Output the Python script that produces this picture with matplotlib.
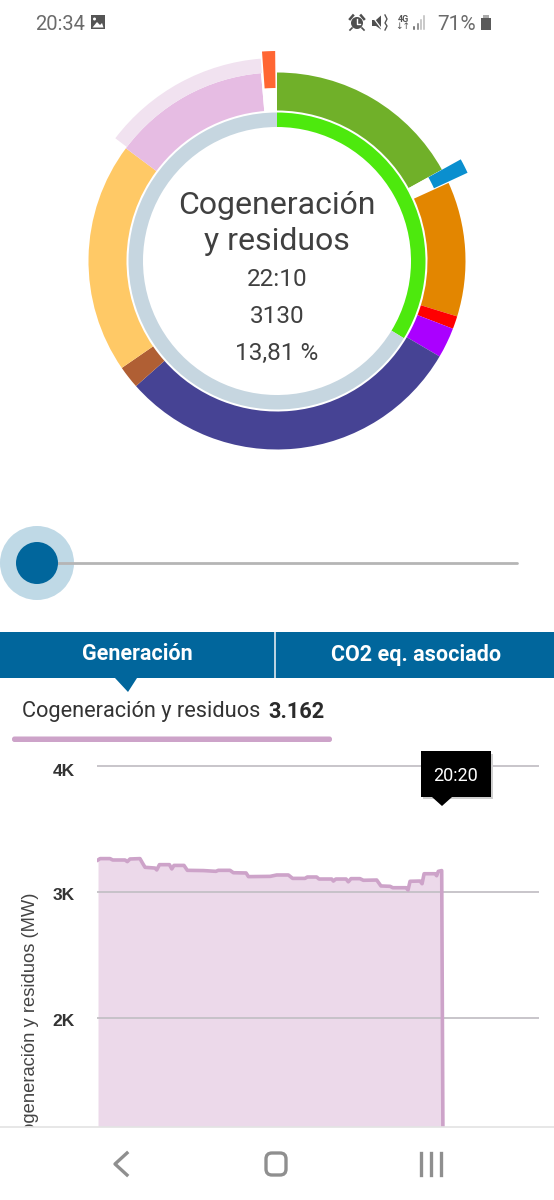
import matplotlib
matplotlib.use('Agg')
import matplotlib.pyplot as plt
from matplotlib.patches import Circle, Polygon, Rectangle, FancyBboxPatch, Wedge

W, H = 554, 1200
plt.rcParams['font.family'] = ['Roboto', 'DejaVu Sans']

# Donut shares, in % of the circle, clockwise from the top
outer_names = ['Eólica', 'hueco', 'Hidráulica', 'Solar fotovoltaica', 'Solar térmica', 'Nuclear',
               'Carbón', 'Ciclo combinado', 'Cogeneración y residuos', 'hueco']
outer_shares = [16.95, 1.25, 11.55, 1.1, 2.6, 30.0, 1.95, 19.8, 13.45, 1.35]
outer_colors = ['#70b029', '#ffffff', '#e38600', '#ff0000', '#aa00ff', '#464394',
                '#b05f34', '#ffc966', '#e6bce3', '#ffffff']
inner_shares = [33.7, 66.3]
inner_colors = ['#4de90d', '#c6d6e0']

# Previous value of the selected slice and the two tick markers, degrees from the top
pale_start, pale_end = 307.2, 355.4
marker_angles = [63.1, 357.7]
marker_half_widths = [2.05, 1.8]
marker_colors = ['#0a8fcf', '#ff6633']

center_lines = ['22:10', '3130', '13,81 %']

# Generation curve
hours = [0.0, 0.12, 0.71, 0.87, 1.60, 1.73, 1.89, 2.48, 2.64, 2.78, 3.37, 3.47, 3.63, 4.22, 4.36,
         4.49, 5.08, 5.28, 6.23, 6.97, 7.11, 7.80, 8.0, 8.75, 8.89, 10.17, 10.56, 11.25, 11.5,
         12.23, 12.37, 12.92, 13.06, 13.81, 13.91, 14.05, 14.66, 14.79, 14.95, 15.48, 15.68,
         16.47, 16.72, 17.26, 17.42, 18.2, 18.32, 18.44, 19.03, 19.15, 19.27, 19.92, 20.01,
         20.11, 20.31]
generation = [3254, 3265, 3265, 3254, 3254, 3241, 3262, 3265, 3227, 3196, 3190, 3175, 3217, 3217,
              3183, 3211, 3211, 3172, 3170, 3164, 3172, 3172, 3153, 3151, 3122, 3124, 3135, 3135,
              3108, 3108, 3119, 3119, 3103, 3103, 3087, 3103, 3103, 3081, 3106, 3106, 3093, 3095,
              3048, 3045, 3034, 3034, 3016, 3085, 3087, 3066, 3145, 3145, 3129, 3164, 3170]
y_ticks = [2000, 3000, 4000]
y_tick_labels = ['2K', '3K', '4K']


def py(y):
    # screen pixels are counted from the top
    return H - y


fig = plt.figure(figsize=(W / 100, H / 100), dpi=100, facecolor='white')
screen = fig.add_axes([0, 0, 1, 1])

# Donut
cx, cy = 277, py(261)
screen.pie(outer_shares, colors=outer_colors, startangle=90, counterclock=False, center=(cx, cy),
           radius=188.5, normalize=True, wedgeprops={'width': 38, 'linewidth': 0}, frame=True)
screen.pie(inner_shares, colors=inner_colors, startangle=90, counterclock=False, center=(cx, cy),
           radius=148.5, normalize=True, wedgeprops={'width': 14.5, 'linewidth': 0}, frame=True)
screen.set_xlim(0, W)
screen.set_ylim(0, H)
screen.set_aspect('auto')
screen.axis('off')
screen.add_patch(Wedge((cx, cy), 203, 90 - pale_end, 90 - pale_start, width=14.5,
                       fc='#f1e2f0', lw=0))
for angle, half, color in zip(marker_angles, marker_half_widths, marker_colors):
    screen.add_patch(Wedge((cx, cy), 210, 90 - angle - half, 90 - angle + half, width=37,
                           fc=color, lw=0))

screen.text(cx, py(205), 'Cogeneración', fontsize=23, color='#404040', ha='center', va='center')
screen.text(cx, py(241), 'y residuos', fontsize=23, color='#404040', ha='center', va='center')
for label, y in zip(center_lines, [279.5, 316.5, 353.5]):
    screen.text(cx, py(y), label, fontsize=17.5, color='#404040', ha='center', va='center')

# Slider
screen.add_patch(Circle((37, py(563)), 37, fc='#bfd9e6', lw=0))
screen.plot([37, 517], [py(563), py(563)], color='#b5b5b5', lw=2, solid_capstyle='round')
screen.add_patch(Circle((37, py(563)), 21, fc='#01669c', lw=0, zorder=3))

# Tabs
screen.add_patch(Rectangle((0, py(678)), W, 46, fc='#01669c', lw=0))
screen.add_patch(Rectangle((274, py(678)), 2, 46, fc='#b9d2e1', lw=0))
screen.add_patch(Polygon([(115, py(678)), (137, py(678)), (128, py(692))], fc='#01669c', lw=0))
screen.text(137, py(654.5), 'Generación', fontsize=15.5, fontweight='bold', color='white',
            ha='center', va='center', stretch='condensed')
screen.text(416, py(654.5), 'CO2 eq. asociado', fontsize=15.5, fontweight='bold', color='white',
            ha='center', va='center', stretch='condensed')

screen.text(22, py(711.5), 'Cogeneración y residuos', fontsize=15.7, color='#333333',
            ha='left', va='center')
screen.text(268, py(711.5), '3.162', fontsize=15.7, fontweight='bold', color='#2b2b2b',
            ha='left', va='center')
screen.add_patch(FancyBboxPatch((12, py(742)), 320, 5.5, boxstyle='round,pad=0,rounding_size=2.5',
                                fc='#cda3c9', lw=0))

# Area chart, 4K sits at y=766 and each 1K takes 126 px
chart_left, chart_right, chart_top, chart_bottom = 97, 539, 745, 1127
chart = fig.add_axes([chart_left / W, (H - chart_bottom) / H, (chart_right - chart_left) / W,
                      (chart_bottom - chart_top) / H])
chart.patch.set_alpha(0)
chart.set_xlim(-0.06, 26.06)
chart.set_ylim(3000 - (chart_bottom - 892) / 0.126, 4000 + (766 - chart_top) / 0.126)
chart.fill_between(hours + [20.42], generation + [0], 0, color='#ecd9ea', lw=0, zorder=1)
chart.yaxis.grid(True, color='#c4c0c6', lw=1.3, zorder=2)
chart.set_axisbelow(False)
chart.plot(hours + [20.42], generation + [0], color='#cda3c9', lw=2.6, solid_joinstyle='round', zorder=3)
chart.set_yticks(y_ticks)
chart.set_yticklabels([])
chart.set_xticks([])
for side in chart.spines.values():
    side.set_visible(False)
chart.tick_params(length=0)

overlay = fig.add_axes([0, 0, 1, 1], zorder=5)
overlay.set_xlim(0, W)
overlay.set_ylim(0, H)
overlay.axis('off')
for label, y in zip(y_tick_labels, [1021, 896, 771.5]):
    overlay.text(74.5, py(y), label, fontsize=12.5, fontweight='bold', color='#333333',
                 ha='right', va='center', family=['Liberation Sans', 'DejaVu Sans'])
overlay.text(31, py(892), 'Cogeneración y residuos (MW)', fontsize=13.2, color='#444444', rotation=90,
             ha='center', va='top', family=['Liberation Sans', 'DejaVu Sans'])

# Tooltip
overlay.add_patch(Rectangle((423, py(799)), 70, 45, fc='#cfcfcf', lw=0))
overlay.add_patch(Rectangle((421, py(797)), 70, 46, fc='black', lw=0))
overlay.add_patch(Polygon([(432, py(797)), (452, py(797)), (442, py(806))], fc='black', lw=0))
overlay.text(455.5, py(776), '20:20', fontsize=13, color='white', ha='center', va='center')

# Status bar
overlay.text(35, py(24.5), '20:34', fontsize=14.5, color='#6b6b6b', ha='left', va='center')
overlay.add_patch(Rectangle((91, py(29)), 14, 14, fc='#555555', lw=0))
overlay.add_patch(Polygon([(92.5, py(27.5)), (97, py(22)), (100, py(25)), (102, py(23)), (103.5, py(27.5))],
                          fc='white', lw=0))
overlay.add_patch(Circle((94.5, py(19)), 1.5, fc='white', lw=0))
# alarm
overlay.add_patch(Circle((357, py(23)), 6, fc='#4f4f4f', lw=0))
overlay.plot([357, 357, 360], [py(19), py(23.5), py(23.5)], color='white', lw=1)
overlay.plot([350, 353], [py(19), py(15.5)], color='#4f4f4f', lw=1.8)
overlay.plot([361, 364], [py(15.5), py(19)], color='#4f4f4f', lw=1.8)
overlay.plot([352, 350], [py(28), py(30)], color='#4f4f4f', lw=1.2)
overlay.plot([362, 364], [py(28), py(30)], color='#4f4f4f', lw=1.2)
# muted speaker
overlay.add_patch(Polygon([(372, py(20)), (376, py(20)), (381, py(15.5)), (381, py(29.5)), (376, py(26)), (372, py(26))],
                          fc='#4f4f4f', lw=0))
overlay.plot([372, 381], [py(16), py(28)], color='white', lw=0.9)
overlay.plot([385, 387, 385, 387, 385], [py(15), py(19), py(23), py(26), py(30)], color='#555555', lw=1)
overlay.text(403, py(19.5), '4G', fontsize=6.5, fontweight='bold', color='#555555', ha='center', va='center')
overlay.text(403, py(26.5), '↓↑', fontsize=6.5, color='#555555', ha='center', va='center',
             family=['DejaVu Sans'])
for x, top, color in zip([414, 418, 421, 424], [27, 24, 20, 16], ['#555555', '#777777', '#bbbbbb', '#bbbbbb']):
    overlay.plot([x, x], [py(29), py(top)], color=color, lw=1.1)
overlay.text(437, py(25), '71%', fontsize=15, color='#6b6b6b', ha='left', va='center')
overlay.add_patch(Rectangle((481, py(30)), 10, 12.5, fc='#5a5a5a', lw=0))
overlay.add_patch(Rectangle((483, py(17.5)), 6, 3, fc='#aaaaaa', lw=0))

# Navigation bar covers the bottom of the chart
overlay.add_patch(Rectangle((0, 0), W, py(1127), fc='white', lw=0, zorder=6))
overlay.plot([0, W], [py(1127), py(1127)], color='#e3e3e3', lw=1.2, zorder=7)
overlay.plot([127, 115, 127], [py(1153), py(1164), py(1175)], color='#8f8f8f', lw=2.4, zorder=7)
overlay.add_patch(FancyBboxPatch((266, py(1175)), 20, 22, boxstyle='round,pad=0,rounding_size=6',
                                 fc='none', ec='#8f8f8f', lw=2.4, zorder=7))
for x in [421, 431, 441]:
    overlay.plot([x, x], [py(1153), py(1175)], color='#8f8f8f', lw=2.4, zorder=7)

fig.savefig('out.png', dpi=100, facecolor='white')
